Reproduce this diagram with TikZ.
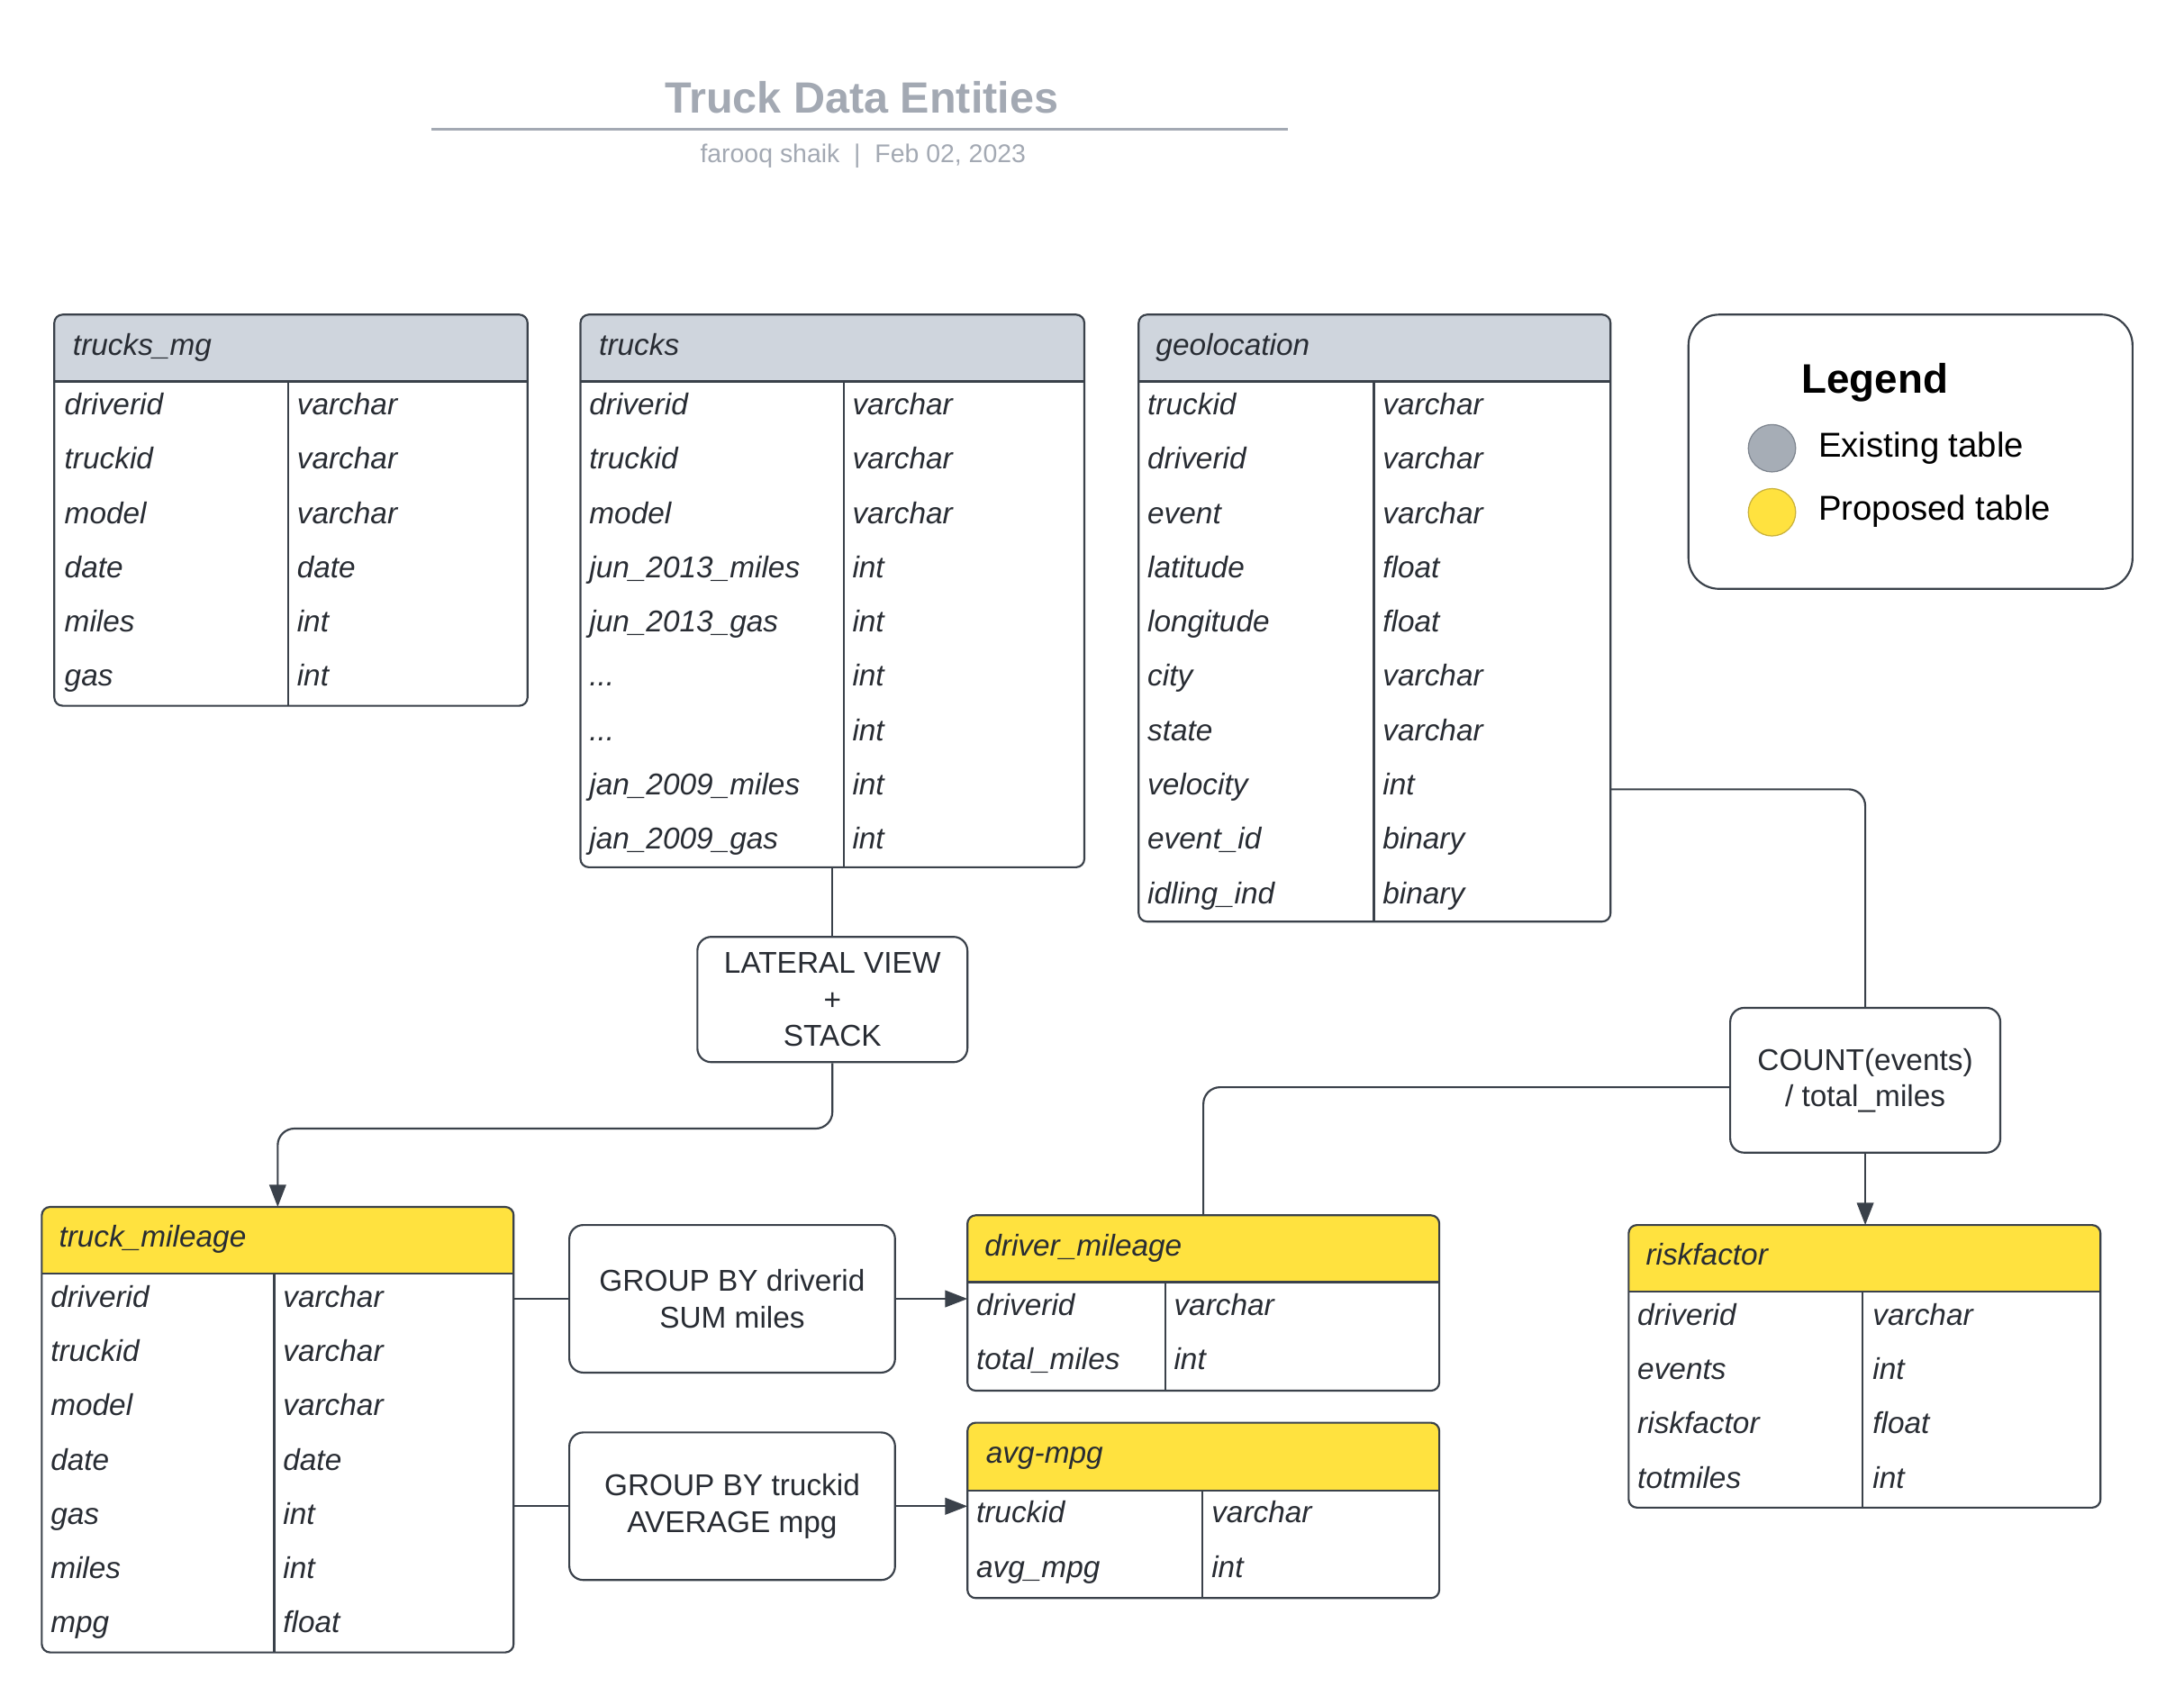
\documentclass[tikz,border=0pt]{standalone}
\usepackage[rgb]{xcolor}
\usepackage{fontspec}
\setmainfont{Liberation Sans}
\usepackage{tikz}
\usetikzlibrary{arrows.meta,backgrounds}

\definecolor{linedark}{HTML}{3A414A}
\definecolor{textdark}{HTML}{282C33}
\definecolor{hdrgray}{HTML}{CFD5DD}
\definecolor{hdryellow}{HTML}{FFE23F}
\definecolor{titlegray}{HTML}{A3A9B3}
\definecolor{dotgray}{HTML}{A6ADB6}
\definecolor{dotgrayline}{HTML}{7E858F}
\definecolor{dotyellowline}{HTML}{C9B13A}
\newcommand\elide{...}

\begin{document}
\begin{tikzpicture}[x=0.5pt, y=-0.5pt,
  tablebox/.style={draw=linedark, line width=0.7pt, rounded corners=3pt, inner sep=0pt, outer sep=0pt, anchor=north west},
  rule/.style={draw=linedark, line width=0.7pt},
  cell/.style={anchor=base west, inner sep=0pt, text=textdark, font=\fontsize{10.8}{13}\selectfont\itshape},
  opbox/.style={draw=linedark, line width=0.7pt, rounded corners=5pt, fill=white, align=center, text=textdark, inner sep=0pt, font=\fontsize{10.8}{13}\selectfont},
  conn/.style={draw=linedark, line width=0.7pt, rounded corners=6pt},
  tip/.style={-{Triangle[length=8pt,width=6pt]}},
  legtext/.style={anchor=west, inner sep=0pt, text=black, font=\fontsize{12.4}{15}\selectfont}
]
\useasboundingbox (0,0) rectangle (1569,1224.5);

%% title
\node[font=\fontsize{15.7}{19}\selectfont\bfseries, text=titlegray] (title) at (619,70) {Truck Data Entities};
\draw[titlegray, line width=1pt] (310,93) -- (925,93);
\node[font=\fontsize{9.2}{11}\selectfont, text=titlegray] (byline) at (620,112) {farooq shaik\ \ |\ \ Feb 02, 2023};

%% existing tables
% trucks_mg
\node[tablebox, minimum width=170pt, minimum height=140.5pt] (trucksmg) at (39,226) {};
\begin{scope}[on background layer]
  \fill[hdrgray, rounded corners=3pt] (39,226) rectangle (379,274);
  \fill[hdrgray] (39,240) rectangle (379,274);
\end{scope}
\draw[rule] (39,274) -- (379,274) (207,274) -- (207,507);
\node[cell] (trucksmg-title) at (52,255) {trucks\_mg};
\foreach \fname/\ftype [count=\i from 0] in {driverid/varchar, truckid/varchar, model/varchar, date/date, miles/int, gas/int}
  \node[cell] (trucksmg-f\i) at (46,{298+39*\i}) {\fname}
  node[cell] (trucksmg-t\i) at (213,{298+39*\i}) {\ftype};

% trucks
\node[tablebox, minimum width=181pt, minimum height=198.5pt] (trucks) at (417,226) {};
\begin{scope}[on background layer]
  \fill[hdrgray, rounded corners=3pt] (417,226) rectangle (779,274);
  \fill[hdrgray] (417,240) rectangle (779,274);
\end{scope}
\draw[rule] (417,274) -- (779,274) (606,274) -- (606,623);
\node[cell] (trucks-title) at (430,255) {trucks};
\foreach \fname/\ftype [count=\i from 0] in {driverid/varchar, truckid/varchar, model/varchar, jun\_2013\_miles/int, jun\_2013\_gas/int, \elide/int, \elide/int, jan\_2009\_miles/int, jan\_2009\_gas/int}
  \node[cell] (trucks-f\i) at (423,{298+39*\i}) {\fname}
  node[cell] (trucks-t\i) at (612,{298+39*\i}) {\ftype};

% geolocation
\node[tablebox, minimum width=169.5pt, minimum height=218pt] (geolocation) at (818,226) {};
\begin{scope}[on background layer]
  \fill[hdrgray, rounded corners=3pt] (818,226) rectangle (1157,274);
  \fill[hdrgray] (818,240) rectangle (1157,274);
\end{scope}
\draw[rule] (818,274) -- (1157,274) (987,274) -- (987,662);
\node[cell] (geolocation-title) at (830,255) {geolocation};
\foreach \fname/\ftype [count=\i from 0] in {truckid/varchar, driverid/varchar, event/varchar, latitude/float, longitude/float, city/varchar, state/varchar, velocity/int, event\_id/binary, idling\_ind/binary}
  \node[cell] (geolocation-f\i) at (824,{298+39*\i}) {\fname}
  node[cell] (geolocation-t\i) at (993,{298+39*\i}) {\ftype};

%% legend
\node[tablebox, rounded corners=11pt, minimum width=159.5pt, minimum height=98.5pt] (legend) at (1213,226) {};
\node[font=\fontsize{14.8}{17}\selectfont\bfseries, text=black] (legend-title) at (1347,275) {Legend};
\node[circle, draw=dotgrayline, fill=dotgray, minimum size=17pt, inner sep=0pt] (existdot) at (1273,322) {};
\node[circle, draw=dotyellowline, fill=hdryellow, minimum size=17pt, inner sep=0pt] (propdot) at (1273,368) {};
\node[legtext] (existlbl) at (1306,322) {Existing table};
\node[legtext] (proplbl) at (1306,367) {Proposed table};

%% proposed tables
% truck_mileage
\node[tablebox, minimum width=169.5pt, minimum height=160pt] (truckmileage) at (30,867) {};
\begin{scope}[on background layer]
  \fill[hdryellow, rounded corners=3pt] (30,867) rectangle (369,915);
  \fill[hdryellow] (30,881) rectangle (369,915);
\end{scope}
\draw[rule] (30,915) -- (369,915) (197,915) -- (197,1187);
\node[cell] (truckmileage-title) at (42,896) {truck\_mileage};
\foreach \fname/\ftype [count=\i from 0] in {driverid/varchar, truckid/varchar, model/varchar, date/date, gas/int, miles/int, mpg/float}
  \node[cell] (truckmileage-f\i) at (36,{939+39*\i}) {\fname}
  node[cell] (truckmileage-t\i) at (203,{939+39*\i}) {\ftype};

% driver_mileage
\node[tablebox, minimum width=169.5pt, minimum height=63pt] (drivermileage) at (695,873) {};
\begin{scope}[on background layer]
  \fill[hdryellow, rounded corners=3pt] (695,873) rectangle (1034,921);
  \fill[hdryellow] (695,887) rectangle (1034,921);
\end{scope}
\draw[rule] (695,921) -- (1034,921) (837,921) -- (837,999);
\node[cell] (drivermileage-title) at (707,902) {driver\_mileage};
\foreach \fname/\ftype [count=\i from 0] in {driverid/varchar, total\_miles/int}
  \node[cell] (drivermileage-f\i) at (701,{945+39*\i}) {\fname}
  node[cell] (drivermileage-t\i) at (843,{945+39*\i}) {\ftype};

% avg-mpg
\node[tablebox, minimum width=169.5pt, minimum height=63pt] (avgmpg) at (695,1022) {};
\begin{scope}[on background layer]
  \fill[hdryellow, rounded corners=3pt] (695,1022) rectangle (1034,1071);
  \fill[hdryellow] (695,1036) rectangle (1034,1071);
\end{scope}
\draw[rule] (695,1071) -- (1034,1071) (864,1071) -- (864,1148);
\node[cell] (avgmpg-title) at (708,1051) {avg-mpg};
\foreach \fname/\ftype [count=\i from 0] in {truckid/varchar, avg\_mpg/int}
  \node[cell] (avgmpg-f\i) at (701,{1094+39*\i}) {\fname}
  node[cell] (avgmpg-t\i) at (870,{1094+39*\i}) {\ftype};

% riskfactor
\node[tablebox, minimum width=169.5pt, minimum height=101.5pt] (riskfactor) at (1170,880) {};
\begin{scope}[on background layer]
  \fill[hdryellow, rounded corners=3pt] (1170,880) rectangle (1509,928);
  \fill[hdryellow] (1170,894) rectangle (1509,928);
\end{scope}
\draw[rule] (1170,928) -- (1509,928) (1338,928) -- (1338,1083);
\node[cell] (riskfactor-title) at (1182,909) {riskfactor};
\foreach \fname/\ftype [count=\i from 0] in {driverid/varchar, events/int, riskfactor/float, totmiles/int}
  \node[cell] (riskfactor-f\i) at (1176,{952+39*\i}) {\fname}
  node[cell] (riskfactor-t\i) at (1345,{952+39*\i}) {\ftype};

%% operations
\node[opbox, minimum width=97pt, minimum height=45pt] (lateral) at (598,718) {LATERAL VIEW\\+\\STACK};
\node[opbox, minimum width=117pt, minimum height=53pt] (grpdrv) at (526,933) {GROUP BY driverid\\SUM miles};
\node[opbox, minimum width=117pt, minimum height=53pt] (grptrk) at (526,1082) {GROUP BY truckid\\AVERAGE mpg};
\node[opbox, minimum width=97pt, minimum height=52pt] (count) at (1340,776) {COUNT(events)\\/ total\_miles};

%% connectors
\coordinate (geoout) at (1157,567);
\draw[conn] (trucks.south) -- (lateral.north);
\draw[conn, tip] (lateral.south) -- ++(0,47) -| (truckmileage.north);
\draw[conn] (grpdrv.west -| truckmileage.east) -- (grpdrv.west);
\draw[conn, tip] (grpdrv.east) -- (grpdrv.east -| drivermileage.west);
\draw[conn] (grptrk.west -| truckmileage.east) -- (grptrk.west);
\draw[conn, tip] (grptrk.east) -- (grptrk.east -| avgmpg.west);
\draw[conn] (geoout) -| (count.north);
\draw[conn] ([yshift=-2.5pt]count.west) -| (drivermileage.north);
\draw[conn, tip] (count.south) -- (count.south |- riskfactor.north);

\end{tikzpicture}
\end{document}
